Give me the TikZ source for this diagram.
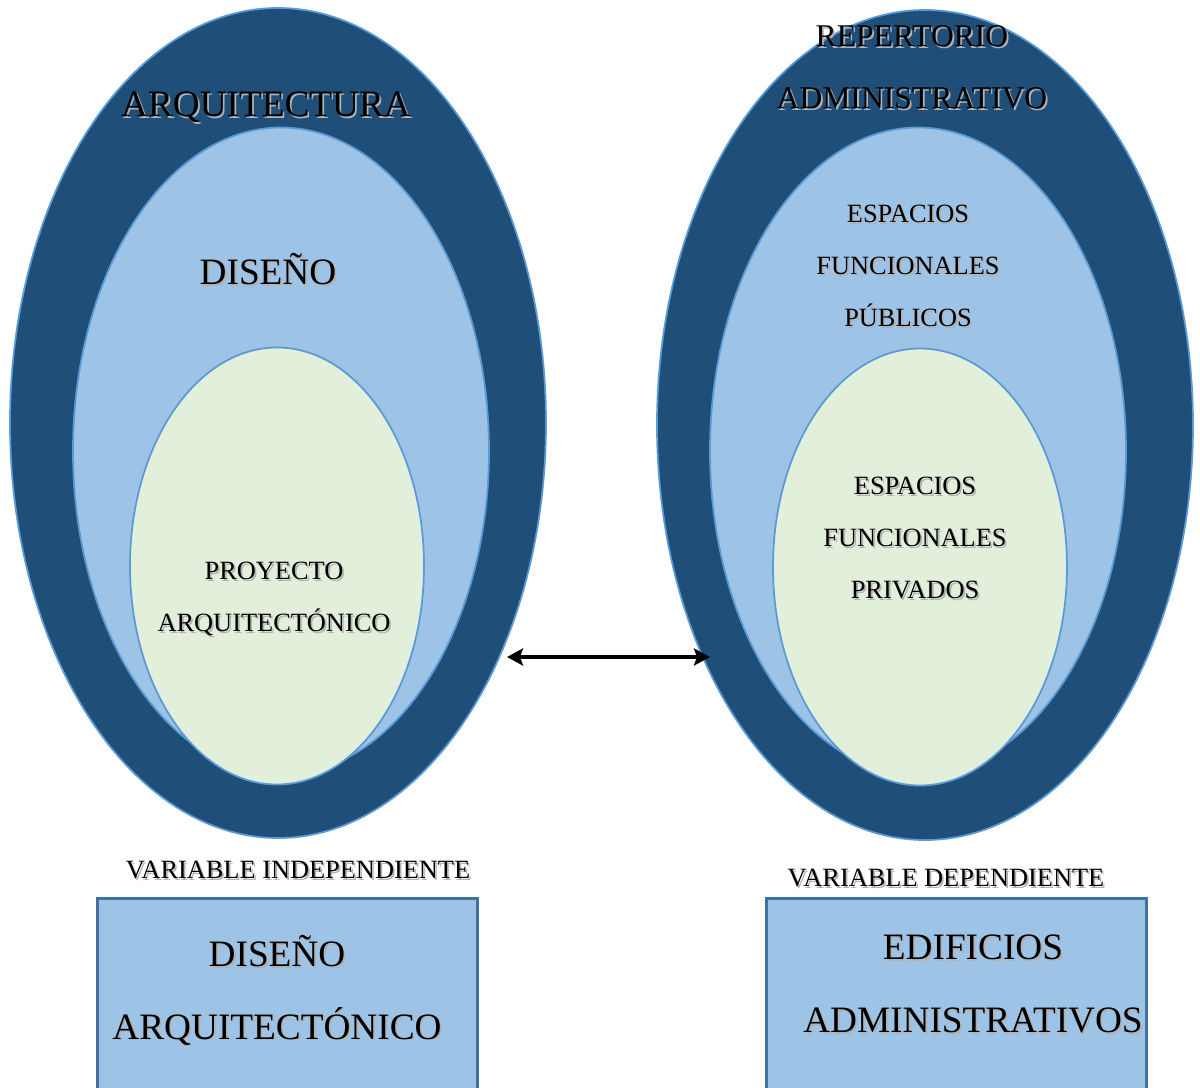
\documentclass[tikz,border=0pt]{standalone}
\usepackage{fontspec}
\setmainfont{Liberation Serif}
\usetikzlibrary{shapes.geometric,arrows.meta}
\definecolor{azuloscuro}{RGB}{31,78,121}
\definecolor{azulclaro}{RGB}{157,195,230}
\definecolor{verdeclaro}{RGB}{226,239,218}
\definecolor{bordeazul}{RGB}{91,155,213}
\definecolor{bordecaja}{RGB}{65,113,156}
% texto con sombra suave
\newcommand{\sombra}[1]{\rlap{\kern0.5pt\raisebox{-0.5pt}{\color{black!30}#1}}#1}
\tikzset{
  capa/.style={ellipse, draw=bordeazul, line width=0.5pt, inner sep=0pt},
  externa/.style={capa, fill=azuloscuro, minimum width=5.36cm, minimum height=8.30cm},
  media/.style={capa, fill=azulclaro, minimum width=4.16cm, minimum height=6.47cm},
  interna/.style={capa, fill=verdeclaro, minimum width=2.94cm, minimum height=4.37cm},
  titulo/.style={font=\fontsize{10.6}{20.7}\selectfont, align=center, inner sep=0pt},
  repertorio/.style={font=\fontsize{9}{17.6}\selectfont, align=center, inner sep=0pt},
  etiqueta/.style={font=\fontsize{7.5}{14.8}\selectfont, align=center, inner sep=0pt},
  caja/.style={draw=bordecaja, line width=0.9pt, fill=azulclaro, anchor=north west,
    minimum width=3.80cm, minimum height=2.20cm}
}

\begin{document}
\begin{tikzpicture}
  \clip (0,0) rectangle (12,-10.88);
  % variable independiente
  \node[externa] (arqL) at (2.78,-4.23) {};
  \node[media] (disL) at (2.81,-4.51) {};
  \node[interna] (proL) at (2.77,-5.66) {};
  \node[titulo] (arq) at (2.66,-1.08) {\sombra{ARQUITECTURA}};
  \node[titulo] (dis) at (2.68,-2.70) {\sombra{DISEÑO}};
  \node[etiqueta] (pro) at (2.74,-6.00) {\sombra{PROYECTO}\\\sombra{ARQUITECTÓNICO}};

  % variable dependiente
  \node[externa] (repR) at (9.25,-4.25) {};
  \node[media] (pubR) at (9.18,-4.51) {};
  \node[interna] (priR) at (9.20,-5.67) {};
  \node[repertorio] (rep) at (9.12,-0.68) {\sombra{REPERTORIO}\\\sombra{ADMINISTRATIVO}};
  \node[etiqueta] (pub) at (9.08,-2.67) {\sombra{ESPACIOS}\\\sombra{FUNCIONALES}\\\sombra{PÚBLICOS}};
  \node[etiqueta] (pri) at (9.15,-5.39) {\sombra{ESPACIOS}\\\sombra{FUNCIONALES}\\\sombra{PRIVADOS}};

  % relacion
  \coordinate (flechaI) at (5.07,-6.57);
  \coordinate (flechaD) at (7.10,-6.57);
  \draw[line width=1.1pt, {Stealth[length=1.6mm,width=1.7mm,inset=0.3mm]}-{Stealth[length=1.6mm,width=1.7mm,inset=0.3mm]}] (flechaI) -- (flechaD);

  % cajas
  \node[etiqueta] (varI) at (2.98,-8.71) {\sombra{VARIABLE INDEPENDIENTE}};
  \node[etiqueta] (varD) at (9.46,-8.79) {\sombra{VARIABLE DEPENDIENTE}};
  \node[caja] (cajaI) at (0.96,-8.97) {};
  \node[caja] (cajaD) at (7.65,-8.97) {};
  \node[titulo] (dia) at (2.77,-9.91) {\sombra{DISEÑO}\\\sombra{ARQUITECTÓNICO}};
  \node[titulo] (edi) at (9.73,-9.85) {\sombra{EDIFICIOS}\\\sombra{ADMINISTRATIVOS}};
\end{tikzpicture}
\end{document}
